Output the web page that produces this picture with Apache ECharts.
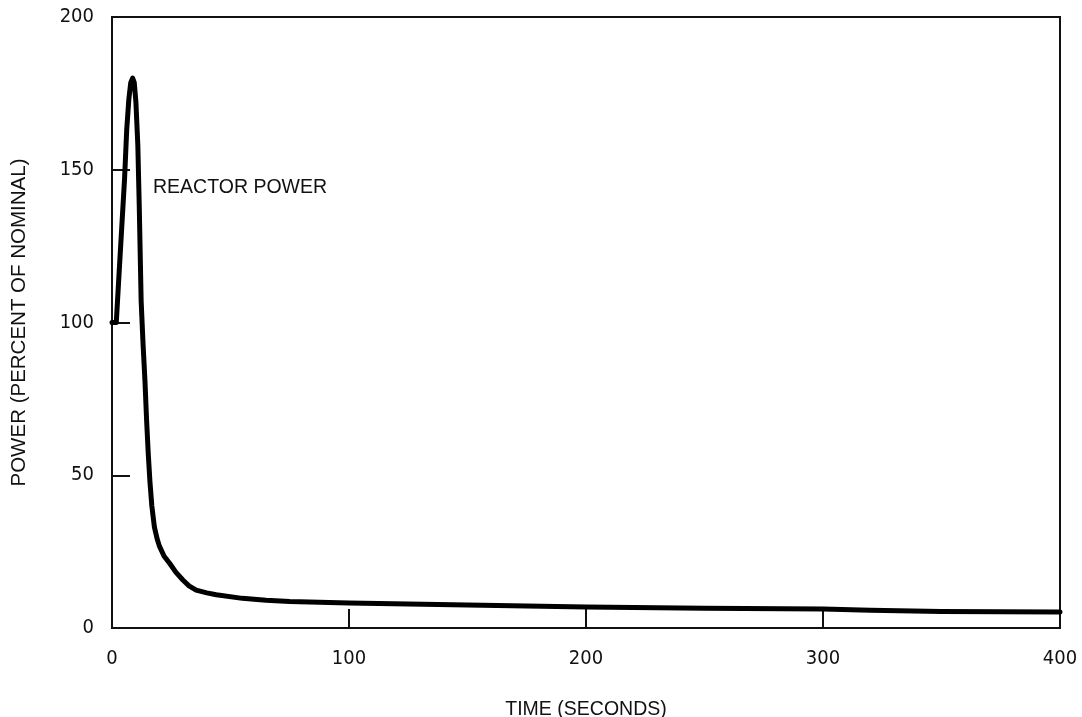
<!DOCTYPE html>
<html>
<head>
<meta charset="utf-8">
<script src="https://cdn.jsdelivr.net/npm/echarts@6/dist/echarts.min.js"></script>
<style>
html,body{margin:0;padding:0;background:#fff;}
#chart{width:1082px;height:717px;}
</style>
</head>
<body>
<div id="chart"></div>
<script>
const timeSeconds = [0, 1.8, 3.5, 5.3, 6.2, 7.1, 7.9, 8.7, 9.4, 10.1, 10.9, 11.5, 12.3, 13.1, 13.9, 14.6, 15.3, 16.0, 16.8, 17.9, 19.0, 20.0, 22.0, 24.3, 27.0, 29.9, 32.5, 35.5, 40.0, 44.0, 55.0, 65.0, 75.0, 100, 150, 200, 250, 300, 320, 350, 400];
const powerPercent = [100, 100, 123, 147, 163, 173, 178.5, 180, 178.5, 172, 158, 138, 107, 93, 81, 68, 57, 48, 40, 33, 29.3, 26.8, 23.5, 21.2, 18.2, 15.7, 13.8, 12.4, 11.5, 10.9, 9.7, 9.1, 8.7, 8.2, 7.5, 6.9, 6.5, 6.2, 5.8, 5.4, 5.2];
const xTicks = [0, 100, 200, 300, 400];
const yTicks = [0, 50, 100, 150, 200];
const seriesLabel = 'REACTOR POWER';
const xTitle = 'TIME (SECONDS)';
const yTitle = 'POWER (PERCENT OF NOMINAL)';

const NARROW = '"Liberation Sans Narrow", "DejaVu Sans Condensed", "Liberation Sans", sans-serif';
const FONT = '"Liberation Sans", Arial, sans-serif';
const chart = echarts.init(document.getElementById('chart'), null, {renderer: 'canvas'});
const data = timeSeconds.map((t, i) => [t, powerPercent[i]]);
chart.setOption({
  animation: false,
  backgroundColor: '#fff',
  grid: {left: 112, right: 22, top: 17, bottom: 89, show: true, borderColor: '#111', borderWidth: 2,
         backgroundColor: 'transparent', containLabel: false, outerBoundsMode: 'none'},
  xAxis: {
    type: 'value', min: xTicks[0], max: xTicks[xTicks.length - 1], interval: 100,
    name: xTitle, nameLocation: 'middle', nameGap: 72,
    nameTextStyle: {fontFamily: FONT, fontSize: 19.5, color: '#111'},
    axisLine: {show: true, lineStyle: {color: '#111', width: 2}},
    axisTick: {show: true, inside: true, length: 19, lineStyle: {color: '#111', width: 2}},
    axisLabel: {fontFamily: NARROW, fontSize: 20, color: '#111', margin: 21},
    splitLine: {show: false}
  },
  yAxis: {
    type: 'value', min: yTicks[0], max: yTicks[yTicks.length - 1], interval: 50,
    name: yTitle, nameLocation: 'middle', nameGap: 82, nameRotate: 90,
    nameTextStyle: {fontFamily: FONT, fontSize: 20.5, color: '#111'},
    axisLine: {show: true, lineStyle: {color: '#111', width: 2}},
    axisTick: {show: true, inside: true, length: 18, lineStyle: {color: '#111', width: 2}},
    axisLabel: {fontFamily: NARROW, fontSize: 20, color: '#111', margin: 18},
    splitLine: {show: false}
  },
  series: [{
    type: 'line', name: seriesLabel, data: data, showSymbol: false,
    smooth: false,
    lineStyle: {color: '#000', width: 5, cap: 'round', join: 'round'}
  }],
  graphic: [{
    type: 'text', left: 153, top: 178,
    style: {text: seriesLabel, fontFamily: FONT, fontSize: 19.5, fill: '#111'}
  }]
});
</script>
</body>
</html>
